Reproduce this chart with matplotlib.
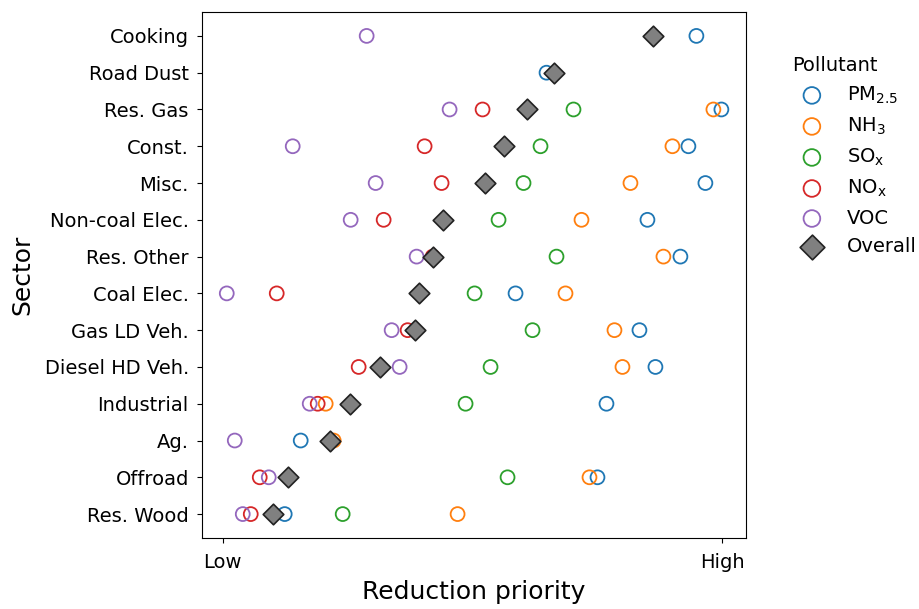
import numpy as np
import matplotlib
matplotlib.use("Agg")
import matplotlib.pyplot as plt

# Sectors, top to bottom
sectors = ["Cooking", "Road Dust", "Res. Gas", "Const.", "Misc.", "Non-coal Elec.",
           "Res. Other", "Coal Elec.", "Gas LD Veh.", "Diesel HD Veh.", "Industrial",
           "Ag.", "Offroad", "Res. Wood"]

nan = np.nan
# Reduction priority per pollutant (0 = Low, 1 = High)
pm25 = [0.948, 0.648, 0.998, 0.932, 0.966, 0.850, 0.916, 0.586, 0.834, 0.866, 0.768, 0.156, 0.750, 0.124]
nh3 = [nan, nan, 0.982, 0.900, 0.816, 0.718, 0.882, 0.686, 0.784, 0.800, 0.206, 0.222, 0.734, 0.470]
sox = [nan, nan, 0.702, 0.636, 0.602, 0.552, 0.668, 0.504, 0.620, 0.536, 0.486, nan, 0.570, 0.240]
nox = [nan, nan, 0.520, 0.404, 0.438, 0.322, 0.420, 0.108, 0.370, 0.272, 0.190, nan, 0.074, 0.056]
voc = [0.288, nan, 0.454, 0.140, 0.306, 0.256, 0.388, 0.008, 0.338, 0.354, 0.174, 0.024, 0.092, 0.040]
overall = [0.862, 0.662, 0.608, 0.562, 0.524, 0.440, 0.420, 0.392, 0.384, 0.314, 0.254, 0.214, 0.130, 0.100]

pollutants = [
    (r"$\mathregular{PM_{2.5}}$", pm25, "tab:blue"),
    (r"$\mathregular{NH_3}$", nh3, "tab:orange"),
    (r"$\mathregular{SO_x}$", sox, "tab:green"),
    (r"$\mathregular{NO_x}$", nox, "tab:red"),
    ("VOC", voc, "tab:purple"),
]

fig = plt.figure(figsize=(9.2, 6.09), dpi=100)
ax = fig.add_axes([0.2196, 0.1166, 0.5914, 0.8637])

ypos = np.arange(len(sectors))
for label, vals, color in pollutants:
    ax.scatter(vals, ypos, s=100, facecolors="none", edgecolors=color,
               linewidths=1.3, label=label, zorder=2)
ax.scatter(overall, ypos, s=110, marker="D", color="gray", edgecolors="#222222",
           linewidths=1.2, label="Overall", zorder=3)

ax.set_yticks(ypos)
ax.set_yticklabels(sectors, fontsize=14)
ax.invert_yaxis()
ax.set_xticks([0, 1])
ax.set_xticklabels(["Low", "High"], fontsize=14)
ax.tick_params(axis="x", pad=7)
ax.tick_params(axis="y", pad=6)
ax.set_xlabel("Reduction priority", fontsize=18, labelpad=6)
ax.set_ylabel("Sector", fontsize=18, labelpad=7)

ax.legend(title="Pollutant", loc="upper left", bbox_to_anchor=(1.053, 0.95),
          frameon=False, fontsize=14, title_fontsize=14, markerscale=1.2,
          alignment="left")

fig.savefig("out.png", dpi=100)
